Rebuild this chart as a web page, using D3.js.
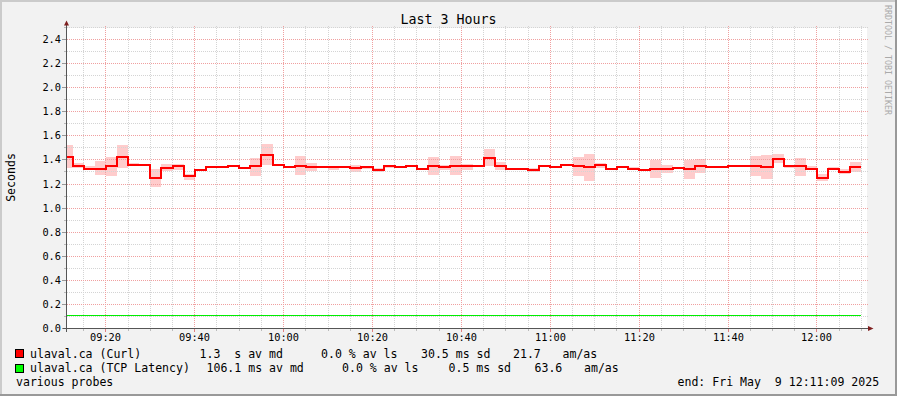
<!DOCTYPE html>
<html><head><meta charset="utf-8">
<script src="https://cdn.jsdelivr.net/npm/d3@7/dist/d3.min.js"></script>
<style>
html,body{margin:0;padding:0;background:#f2f2f2;}
svg{display:block;}
text{font-family:"DejaVu Sans Mono",monospace;fill:#000;}
</style>
</head><body>
<svg id="chart" width="897" height="396"></svg>
<script>
// ---------------- data ----------------
const title = "Last 3 Hours";
const yAxisLabel = "Seconds";
const watermark = "RRDTOOL / TOBI OETIKER";
const windowStart = "2025-05-09T09:11:09";
const windowEnd   = "2025-05-09T12:11:09";
const firstStep   = "2025-05-09T09:10:00";
const stepSeconds = 150;

// ulaval.ca (Curl) median per step (seconds)
const curlMedian = [1.428,1.353,1.328,1.328,1.347,1.428,1.356,1.356,1.253,1.336,
  1.347,1.264,1.319,1.344,1.339,1.353,1.331,1.347,1.444,1.358,
  1.339,1.353,1.339,1.339,1.339,1.339,1.331,1.342,1.319,1.347,
  1.339,1.347,1.328,1.347,1.339,1.353,1.347,1.347,1.419,1.353,
  1.328,1.328,1.319,1.347,1.344,1.358,1.347,1.339,1.358,1.328,
  1.344,1.328,1.319,1.328,1.328,1.333,1.328,1.353,1.339,1.339,
  1.353,1.353,1.347,1.339,1.411,1.347,1.347,1.328,1.253,1.328,
  1.303,1.339];
// smoke band (min / max of pings) per step
const curlLow = [1.336,1.333,1.325,1.278,1.267,1.336,1.350,1.353,1.175,1.308,
  1.314,1.231,1.317,1.341,1.336,1.350,1.328,1.267,1.358,1.350,
  1.331,1.272,1.311,1.333,1.319,1.336,1.303,1.328,1.303,1.336,
  1.336,1.339,1.325,1.275,1.319,1.275,1.319,1.344,1.353,1.314,
  1.322,1.325,1.300,1.342,1.341,1.347,1.267,1.225,1.336,1.322,
  1.341,1.322,1.317,1.250,1.292,1.331,1.242,1.292,1.333,1.333,
  1.350,1.347,1.267,1.242,1.375,1.336,1.267,1.322,1.228,1.319,
  1.283,1.300];
const curlHigh = [1.522,1.378,1.347,1.389,1.422,1.522,1.372,1.358,1.328,1.364,
  1.364,1.286,1.322,1.347,1.342,1.356,1.336,1.414,1.531,1.367,
  1.347,1.431,1.372,1.347,1.347,1.342,1.358,1.347,1.336,1.356,
  1.342,1.356,1.333,1.425,1.358,1.433,1.364,1.350,1.489,1.381,
  1.333,1.331,1.336,1.353,1.347,1.367,1.425,1.450,1.375,1.336,
  1.347,1.339,1.322,1.403,1.358,1.336,1.403,1.411,1.347,1.347,
  1.358,1.358,1.431,1.439,1.447,1.358,1.414,1.347,1.281,1.339,
  1.322,1.381];
// ulaval.ca (TCP Latency) median per step (seconds)
const tcpMedian = [0.1061,0.1061,0.1061,0.1061,0.1061,0.1061,0.1061,0.1061,0.1061,0.1061,
  0.1061,0.1061,0.1061,0.1061,0.1061,0.1061,0.1061,0.1061,0.1061,0.1061,
  0.1061,0.1061,0.1061,0.1061,0.1061,0.1061,0.1061,0.1061,0.1061,0.1061,
  0.1061,0.1061,0.1061,0.1061,0.1061,0.1061,0.1061,0.1061,0.1061,0.1061,
  0.1061,0.1061,0.1061,0.1061,0.1061,0.1061,0.1061,0.1061,0.1061,0.1061,
  0.1061,0.1061,0.1061,0.1061,0.1061,0.1061,0.1061,0.1061,0.1061,0.1061,
  0.1061,0.1061,0.1061,0.1061,0.1061,0.1061,0.1061,0.1061,0.1061,0.1061,
  0.1061,0.1061];

const yMajorTicks = [0,0.2,0.4,0.6,0.8,1.0,1.2,1.4,1.6,1.8,2.0,2.2,2.4];
const yMinorTicks = [0.1,0.3,0.5,0.7,0.9,1.1,1.3,1.5,1.7,1.9,2.1,2.3,2.5];

const legendRows = [
  {color:"#ff0000", segs:[["ulaval.ca (Curl)",30],["1.3  s av md",199.5],["0.0 % av ls",321],["30.5 ms sd",421],["21.7",513],["am/as",562.5]]},
  {color:"#00ff00", segs:[["ulaval.ca (TCP Latency)",30],["106.1 ms av md",206.5],["0.0 % av ls",342],["0.5 ms sd",448.5],["63.6",534.5],["am/as",584]]}
];
const footLeft = "various probes";
const footRight = "end: Fri May  9 12:11:09 2025";

// ---------------- drawing ----------------
const svg = d3.select("#chart");
const W = 897, H = 396;
const t0 = new Date(windowStart), t1 = new Date(windowEnd), s0 = new Date(firstStep);
const x = d3.scaleTime().domain([t0, t1]).range([66.5, 866.5]);
const y = d3.scaleLinear().domain([0, 2.5]).range([328.5, 27.5]);
const px = v => Math.floor(v) + 0.5;

// background + 3D frame
svg.append("rect").attr("width", W).attr("height", H).attr("fill", "#f2f2f2");
svg.append("rect").attr("x",0).attr("y",0).attr("width",W).attr("height",2).attr("fill","#cbcbcb");
svg.append("rect").attr("x",0).attr("y",0).attr("width",2).attr("height",H).attr("fill","#cbcbcb");
svg.append("rect").attr("x",0).attr("y",H-2).attr("width",W).attr("height",2).attr("fill","#999");
svg.append("rect").attr("x",W-2).attr("y",0).attr("width",2).attr("height",H).attr("fill","#999");

// canvas
svg.append("rect").attr("x", 67).attr("y", 28).attr("width", 800).attr("height", 300.5).attr("fill", "#fff");

// data points
const pts = curlMedian.map((v, i) => {
  const t = new Date(s0.getTime() + i * stepSeconds * 1000);
  return {t: t < t0 ? t0 : t, m: v, lo: curlLow[i], hi: curlHigh[i], g: tcpMedian[i]};
});
const lastP = pts[pts.length - 1];
pts.push(Object.assign({}, lastP, {t: new Date(s0.getTime() + pts.length * stepSeconds * 1000)}));

const sx = d => Math.round(x(d.t));

// smoke band
svg.append("path").datum(pts)
  .attr("d", d3.area().x(sx).y0(d => Math.round(y(d.lo))).y1(d => Math.round(y(d.hi))).curve(d3.curveStepAfter))
  .attr("fill", "#ffcccc");

// grid
const gGrid = svg.append("g").attr("shape-rendering", "crispEdges");
const majorX = x.ticks(d3.timeMinute.every(20));
const minorX = x.ticks(d3.timeMinute.every(5)).filter(t => t.getMinutes() % 20 !== 0);
const minorColor = "#d4d4d4", majorColor = "#f0a0a0";
minorX.forEach(t => {
  const xx = px(x(t));
  gGrid.append("line").attr("x1", xx).attr("x2", xx).attr("y1", 26).attr("y2", 328)
    .attr("stroke", minorColor).attr("stroke-dasharray", "1,1");
  gGrid.append("line").attr("x1", xx).attr("x2", xx).attr("y1", 329).attr("y2", 331).attr("stroke", "#bbb");
});
yMinorTicks.forEach(v => {
  const yy = px(y(v));
  gGrid.append("line").attr("x1", 67).attr("x2", 869).attr("y1", yy).attr("y2", yy)
    .attr("stroke", minorColor).attr("stroke-dasharray", "1,1");
  gGrid.append("line").attr("x1", 64).attr("x2", 66).attr("y1", yy).attr("y2", yy).attr("stroke", "#bbb");
});
majorX.forEach(t => {
  const xx = px(x(t));
  gGrid.append("line").attr("x1", xx).attr("x2", xx).attr("y1", 26).attr("y2", 328)
    .attr("stroke", majorColor).attr("stroke-dasharray", "1,1");
  gGrid.append("line").attr("x1", xx).attr("x2", xx).attr("y1", 329).attr("y2", 332).attr("stroke", "#e08080");
});
yMajorTicks.forEach(v => {
  const yy = px(y(v));
  if (v > 0) gGrid.append("line").attr("x1", 67).attr("x2", 869).attr("y1", yy).attr("y2", yy)
    .attr("stroke", majorColor).attr("stroke-dasharray", "1,1");
  gGrid.append("line").attr("x1", 62).attr("x2", 66).attr("y1", yy).attr("y2", yy).attr("stroke", "#999");
});

// TCP latency line
svg.append("path").datum(pts)
  .attr("d", d3.line().x(sx).y(d => px(y(d.g))).curve(d3.curveStepAfter))
  .attr("fill", "none").attr("stroke", "#00ee00").attr("stroke-width", 1).attr("shape-rendering", "crispEdges");

// Curl median line
svg.append("path").datum(pts)
  .attr("d", d3.line().x(sx).y(d => Math.round(y(d.m))).curve(d3.curveStepAfter))
  .attr("fill", "none").attr("stroke", "#ff0000").attr("stroke-width", 2).attr("shape-rendering", "crispEdges");

// axes
const gAx = svg.append("g").attr("shape-rendering", "crispEdges");
gAx.append("line").attr("x1", 63).attr("x2", 869).attr("y1", 328.5).attr("y2", 328.5).attr("stroke", "#555");
gAx.append("line").attr("x1", 66.5).attr("x2", 66.5).attr("y1", 24).attr("y2", 332).attr("stroke", "#555");
svg.append("path").attr("d", "M64,25.5L69,25.5L66.5,20.5Z").attr("fill", "#7f1f1f");
svg.append("path").attr("d", "M868,326L868,331L873.5,328.5Z").attr("fill", "#7f1f1f");

// tick labels
const fmtT = d3.timeFormat("%H:%M");
majorX.forEach(t => {
  svg.append("text").attr("x", px(x(t))).attr("y", 341).attr("text-anchor", "middle")
    .style("font-size", "10.3px").text(fmtT(t));
});
const fmtY = d3.format(".1f");
yMajorTicks.forEach(v => {
  svg.append("text").attr("x", 61).attr("y", px(y(v)) + 3.6).attr("text-anchor", "end")
    .style("font-size", "10.3px").text(fmtY(v));
});

// title, axis label, watermark
svg.append("text").attr("x", 448.5).attr("y", 24.3).attr("text-anchor", "middle")
  .style("font-size", "13.3px").text(title);
svg.append("text").attr("transform", "translate(15,177.5) rotate(-90)").attr("text-anchor", "middle")
  .style("font-size", "11.55px").text(yAxisLabel);
svg.append("text").attr("transform", "translate(884.5,5) rotate(90)").attr("text-anchor", "start")
  .style("font-size", "8.3px").style("fill", "#aaaaaa").text(watermark);

// legend
const rowBase = [357.5, 372];
legendRows.forEach((r, i) => {
  svg.append("rect").attr("x", 15.5).attr("y", rowBase[i] - 8).attr("width", 8).attr("height", 8)
    .attr("fill", r.color).attr("stroke", "#000").attr("stroke-width", 1).attr("shape-rendering", "crispEdges");
  r.segs.forEach(s => {
    svg.append("text").attr("x", s[1]).attr("y", rowBase[i]).style("font-size", "11.55px")
      .attr("xml:space", "preserve").style("white-space", "pre").text(s[0]);
  });
});
svg.append("text").attr("x", 16).attr("y", 385.8).style("font-size", "11.55px").text(footLeft);
svg.append("text").attr("x", 677.5).attr("y", 385.8).style("font-size", "11.55px")
  .style("white-space", "pre").text(footRight);
</script>
</body></html>
